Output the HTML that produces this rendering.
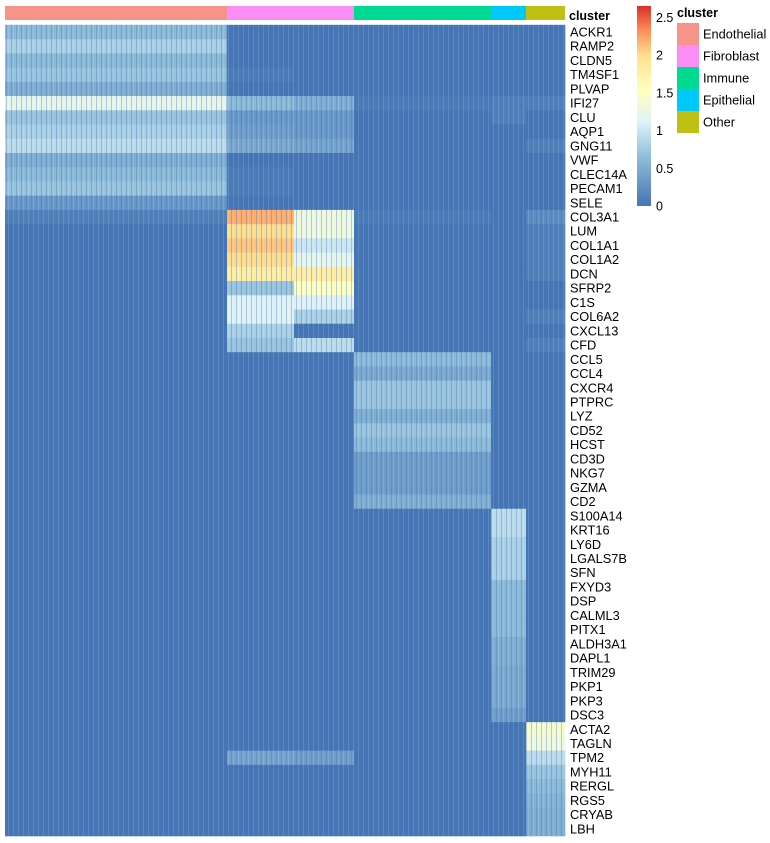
<!DOCTYPE html>
<html><head><meta charset="utf-8">
<style>
body{margin:0;background:#fff;}
svg{display:block;font-family:"Liberation Sans",Arial,sans-serif;}
</style></head>
<body>
<svg id="chart" width="770" height="843">
  <defs>
    <linearGradient id="cbgrad" x1="0" y1="1" x2="0" y2="0">
      <stop offset="0" stop-color="#4575b4"/>
      <stop offset="0.25" stop-color="#91bfdb"/>
      <stop offset="0.42" stop-color="#e0f3f8"/>
      <stop offset="0.58" stop-color="#ffffbf"/>
      <stop offset="0.75" stop-color="#fee090"/>
      <stop offset="0.88" stop-color="#fc8d59"/>
      <stop offset="1" stop-color="#d73027"/>
    </linearGradient>
    <pattern id="stripes" width="5" height="10" patternUnits="userSpaceOnUse">
      <rect x="1" y="0" width="1" height="10" fill="#4575b4" opacity="0.35"/>
      <rect x="3" y="0" width="1" height="10" fill="#ffffff" opacity="0.12"/>
    </pattern>
  </defs>
  <g id="cells"></g>
  <g id="annot"></g>
  <g id="labels"></g>
  <g id="legend"></g>
</svg>
<script>
const genes=["ACKR1","RAMP2","CLDN5","TM4SF1","PLVAP","IFI27","CLU","AQP1","GNG11","VWF","CLEC14A","PECAM1","SELE",
"COL3A1","LUM","COL1A1","COL1A2","DCN","SFRP2","C1S","COL6A2","CXCL13","CFD",
"CCL5","CCL4","CXCR4","PTPRC","LYZ","CD52","HCST","CD3D","NKG7","GZMA","CD2",
"S100A14","KRT16","LY6D","LGALS7B","SFN","FXYD3","DSP","CALML3","PITX1","ALDH3A1","DAPL1","TRIM29","PKP1","PKP3","DSC3",
"ACTA2","TAGLN","TPM2","MYH11","RERGL","RGS5","CRYAB","LBH"];
const clusters=["Endothelial","Fibroblast","Immune","Epithelial","Other"];
const clusterColors=["#f8938a","#fb8ef5","#00d992","#00c8fa","#c0c014"];
// column groups: cluster index and number of cells
const groupCluster=[0,1,1,2,3,4];
const groupCells=[222,67,60,137,35,39];
// mean expression per gene per column group [E, F1, F2, I, Ep, O]
const expr=[
[0.6,0,0,0,0,0],[0.8,0,0,0,0,0],[0.6,0,0,0,0,0],[0.7,0.05,0,0,0,0],[0.5,0,0,0,0,0],
[1.2,0.6,0.5,0.05,0.1,0.1],[0.7,0.3,0.3,0,0.1,0],[0.8,0.35,0.3,0,0,0],[0.9,0.45,0.4,0,0,0.1],
[0.5,0,0,0,0,0],[0.6,0.05,0,0,0,0],[0.7,0.05,0,0,0,0],[0.3,0,0,0,0,0],
[0.1,2.2,1.3,0.05,0,0.2],[0,2.0,1.3,0,0,0.1],[0,2.1,1.0,0,0,0.1],[0,2.0,1.2,0,0,0.1],[0,1.8,1.8,0,0,0.1],
[0,0.7,1.5,0,0,0],[0,1.1,1.1,0,0,0],[0,1.1,0.8,0,0,0.1],[0,0.8,0,0,0,0],[0,0.7,0.9,0,0,0.1],
[0,0,0,0.6,0,0],[0,0,0,0.45,0,0],[0,0,0,0.7,0,0],[0,0,0,0.7,0,0],[0,0,0,0.5,0,0],[0,0,0,0.7,0,0],
[0,0,0,0.6,0,0],[0,0,0,0.35,0,0],[0,0,0,0.35,0,0],[0,0,0,0.35,0,0],[0,0,0,0.5,0,0],
[0,0,0,0,0.9,0],[0,0,0,0,0.9,0],[0,0,0,0,0.8,0],[0,0,0,0,0.8,0],[0,0,0,0,0.8,0],[0,0,0,0,0.6,0],
[0,0,0,0,0.6,0],[0,0,0,0,0.6,0],[0,0,0,0,0.6,0],[0,0,0,0,0.5,0],[0,0,0,0,0.5,0],[0,0,0,0,0.45,0],
[0,0,0,0,0.45,0],[0,0,0,0,0.45,0],[0,0,0,0,0.35,0],
[0,0,0,0,0,1.4],[0,0,0,0,0,1.3],[0,0.4,0.35,0,0,0.9],[0,0,0,0,0,0.7],[0,0,0,0,0,0.6],[0,0,0,0,0,0.55],[0,0,0,0,0,0.5],[0,0,0,0,0,0.5]
];
const colorTicks=[0,0.5,1,1.5,2,2.5];
const vmax=2.65;

const NS="http://www.w3.org/2000/svg";
const X0=5,X1=565,Y0=24.9,Y1=836;
const totalCells=groupCells.reduce((a,b)=>a+b,0);
const rowH=(Y1-Y0)/genes.length;
function xScale(c){return X0+(X1-X0)*c/totalCells;}
function yScale(i){return Y0+i*rowH;}
const stops=[[0,[69,117,180]],[0.25,[145,191,219]],[0.42,[224,243,248]],[0.58,[255,255,191]],[0.75,[254,224,144]],[0.88,[252,141,89]],[1,[215,48,39]]];
function color(v){
  let t=Math.max(0,Math.min(1,v/vmax));
  for(let k=1;k<stops.length;k++){
    if(t<=stops[k][0]){
      const a=stops[k-1],b=stops[k];const f=(t-a[0])/(b[0]-a[0]);
      const c=a[1].map((x,j)=>Math.round(x+(b[1][j]-x)*f));
      return "rgb("+c.join(",")+")";
    }
  }
  return "rgb(215,48,39)";
}
function mk(tag,attrs,parent){const e=document.createElementNS(NS,tag);for(const k in attrs)e.setAttribute(k,attrs[k]);parent.appendChild(e);return e;}

const cells=document.getElementById("cells");
mk("rect",{x:X0,y:Y0,width:X1-X0,height:Y1-Y0,fill:"#4575b4"},cells);
let starts=[];let acc=0;groupCells.forEach(n=>{starts.push(acc);acc+=n;});
genes.forEach((g,i)=>{
  groupCells.forEach((n,j)=>{
    const r=mk("rect",{x:xScale(starts[j]),y:yScale(i),width:xScale(starts[j]+n)-xScale(starts[j])+0.3,height:rowH+0.3,fill:color(expr[i][j])},cells);
    
    
  });
});
mk("rect",{x:X0,y:Y0,width:X1-X0,height:Y1-Y0,fill:"url(#stripes)"},cells);

const annot=document.getElementById("annot");
let cs={};groupCells.forEach((n,j)=>{const c=groupCluster[j];if(!(c in cs))cs[c]=[starts[j],starts[j]+n];else cs[c][1]=starts[j]+n;});
clusters.forEach((c,k)=>{
  const r=mk("rect",{x:xScale(cs[k][0]),y:6,width:xScale(cs[k][1])-xScale(cs[k][0]),height:14,fill:clusterColors[k]},annot);
  
  
});
const at=mk("text",{x:569,y:20,"font-size":12.5,"font-weight":"bold",fill:"#000"},annot);
at.textContent="cluster";



const labels=document.getElementById("labels");
genes.forEach((g,i)=>{
  const t=mk("text",{x:570,y:yScale(i)+rowH/2+4.5,"font-size":12.8,fill:"#000"},labels);
  t.textContent=g;
  
  
});

const lg=document.getElementById("legend");
const CB0=6,CB1=206;
const cb=mk("rect",{x:637,y:CB0,width:14,height:CB1-CB0,fill:"url(#cbgrad)"},lg);


colorTicks.forEach(v=>{
  const y=CB1-(CB1-CB0)*v/vmax;
  const t=mk("text",{x:656,y:y+4.5,"font-size":12.5,fill:"#000"},lg);
  t.textContent=String(v);
  
  
});
const lt=mk("text",{x:677,y:17,"font-size":12.5,"font-weight":"bold",fill:"#000"},lg);
lt.textContent="cluster";


clusters.forEach((c,k)=>{
  const r=mk("rect",{x:677,y:23+k*22,width:22,height:22,fill:clusterColors[k]},lg);
  
  
  const t=mk("text",{x:703,y:23+k*22+15.5,"font-size":12.8,fill:"#000"},lg);
  t.textContent=c;
  
  
});
</script>
</body></html>
